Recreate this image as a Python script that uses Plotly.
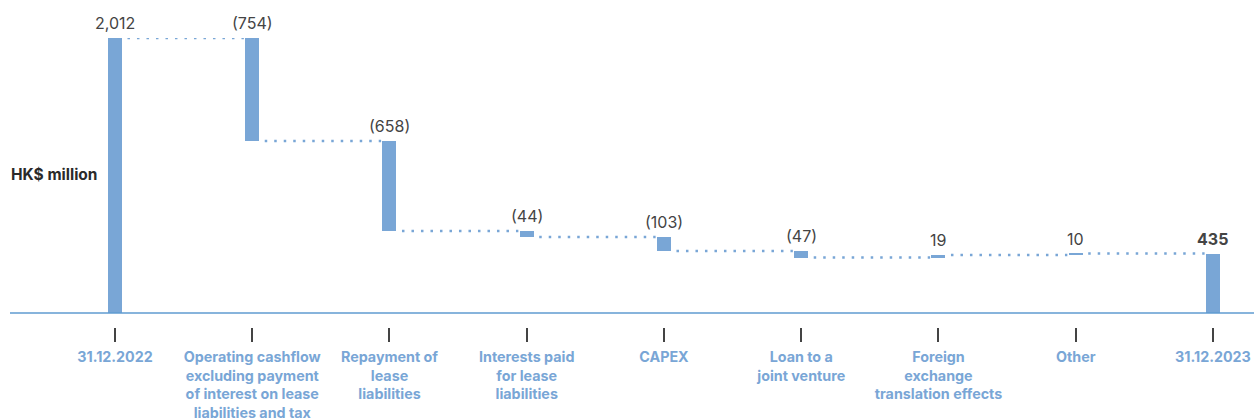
import plotly.graph_objects as go

categories = ["31.12.2022",
              "Operating cashflow<br>excluding payment<br>of interest on lease<br>liabilities and tax",
              "Repayment of<br>lease<br>liabilities",
              "Interests paid<br>for lease<br>liabilities",
              "CAPEX",
              "Loan to a<br>joint venture",
              "Foreign<br>exchange<br>translation effects",
              "Other",
              "31.12.2023"]
changes = [2012, -754, -658, -44, -103, -47, 19, 10, 435]
kinds = ["total", "delta", "delta", "delta", "delta", "delta", "delta", "delta", "total"]
value_labels = ["2,012", "(754)", "(658)", "(44)", "(103)", "(47)", "19", "10", "<b>435</b>"]

BAR = "#79a6d6"
AXIS = "#5f9bd0"
LBL = "#79a6d6"
BW = 0.102

x = list(range(len(categories)))
bases, heights, tops, levels = [], [], [], []
running = 0
for k, v in zip(kinds, changes):
    if k == "total":
        bases.append(0); heights.append(v); tops.append(v); running = v
    else:
        new = running + v
        bases.append(min(running, new)); heights.append(abs(v)); tops.append(max(running, new))
        running = new
    levels.append(running)

fig = go.Figure()
fig.add_trace(go.Bar(x=x, y=heights, base=bases, width=BW, marker=dict(color=BAR, line=dict(width=0)),
                     hoverinfo="skip", showlegend=False))

for i in range(len(x) - 1):
    fig.add_trace(go.Scatter(x=[x[i] + BW / 2 + 0.04, x[i + 1] - BW / 2 - 0.01], y=[levels[i], levels[i]],
                             mode="lines", line=dict(color=BAR, width=2.5, dash="2.5px,7px"),
                             hoverinfo="skip", showlegend=False))

for i, (t, lab) in enumerate(zip(tops, value_labels)):
    fig.add_annotation(x=x[i], y=t, text=lab, showarrow=False, yanchor="bottom", yshift=3,
                       font=dict(family="Inter", size=16, color="#444444"))

fig.add_annotation(xref="paper", yref="paper", x=0, y=0.526, xanchor="left", yanchor="middle",
                   text="<b>HK$ million</b>", showarrow=False,
                   font=dict(family="Inter", size=15.5, color="#2a2a2a"), xshift=-1)

fig.add_shape(type="line", xref="paper", yref="y", x0=0, x1=1, y0=0, y1=0,
              line=dict(color=AXIS, width=1.5), layer="above")

fig.update_layout(
    width=1254, height=419,
    margin=dict(l=10, r=0, t=38, b=92, autoexpand=False),
    paper_bgcolor="white", plot_bgcolor="white",
    bargap=0,
    xaxis=dict(range=[-0.765, 8.299], tickmode="array", tickvals=x, ticktext=[f"<b>{c}</b>" for c in categories],
               showgrid=False, zeroline=False, showline=False, ticks="outside", ticklen=14,
               tickcolor="#444444", tickwidth=1.5, ticklabelstandoff=3, automargin=False,
               tickfont=dict(family="Inter", size=14.3, color=LBL), fixedrange=True),
    yaxis=dict(range=[-102.4, 2012], visible=False, showgrid=False, zeroline=False, fixedrange=True,
               automargin=False),
)

fig.write_html("out.html")
